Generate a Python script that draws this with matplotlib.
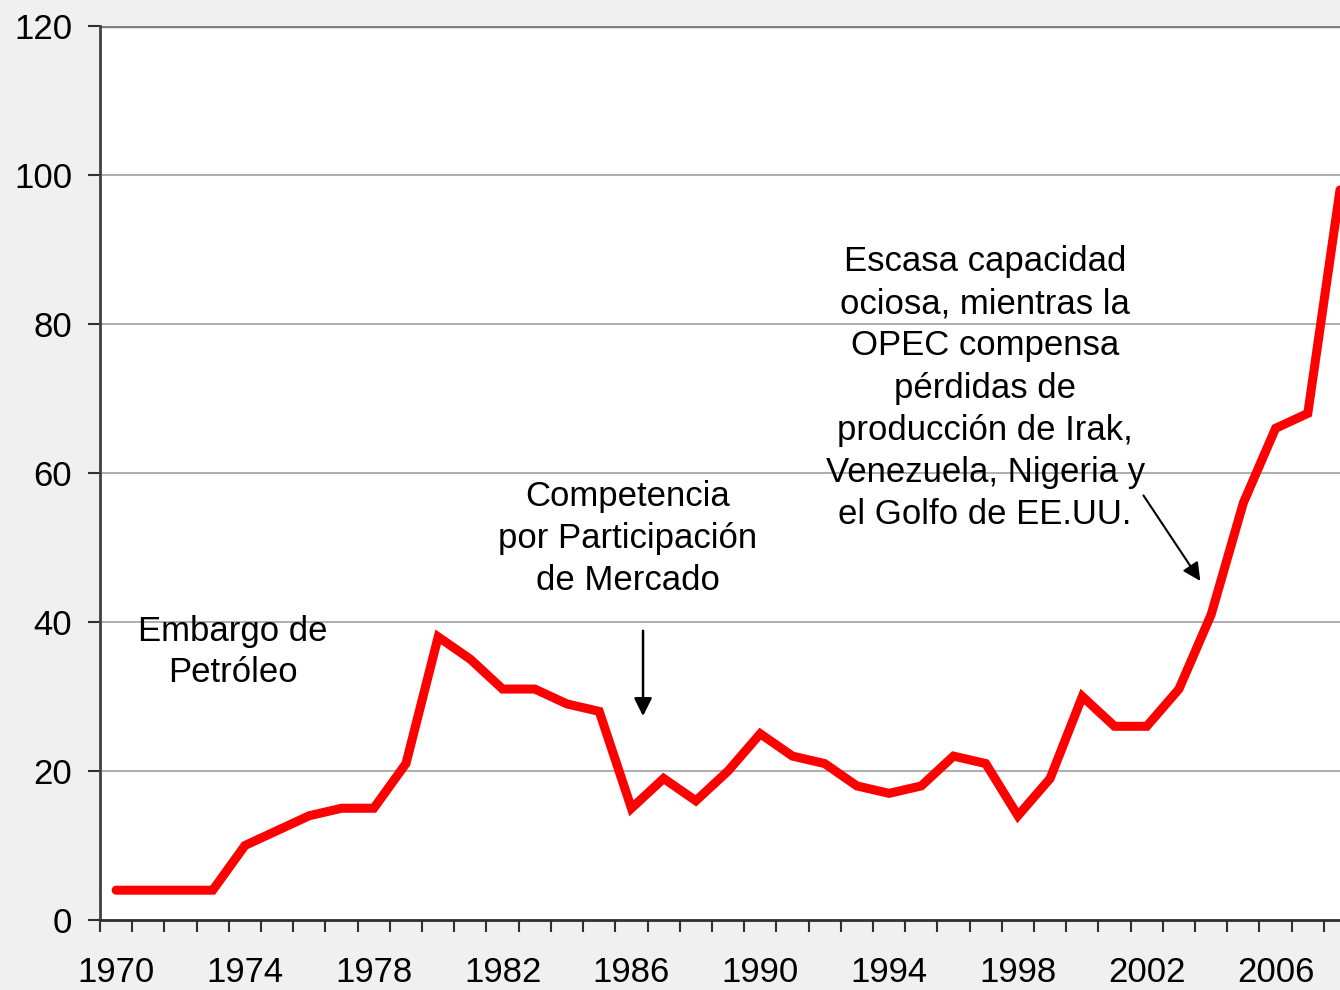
import matplotlib
matplotlib.use("Agg")
import matplotlib.pyplot as plt
import numpy as np

years = list(range(1970, 2009))
values = [4, 4, 4, 4, 10, 12, 14, 15, 15, 21,
          38, 35, 31, 31, 29, 28, 15, 19, 16, 20,
          25, 22, 21, 18, 17, 18, 22, 21, 14, 19,
          30, 26, 26, 31, 41, 56, 66, 68, 98]
label_years = list(range(1970, 2007, 4))
y_ticks = [0, 20, 40, 60, 80, 100, 120]

plt.rcParams['font.family'] = ['Liberation Sans', 'DejaVu Sans']
FS = 25
LS = 1.35

fig = plt.figure(figsize=(13.4, 9.9), dpi=100)
fig.patch.set_facecolor('#f0f0f0')
ax = fig.add_axes([100/1340, 70/990, 1240/1340, 894/990])
ax.set_facecolor('white')

x = np.arange(len(years))
ax.plot(x, values, color='#ff0000', lw=6.5, solid_capstyle='round', solid_joinstyle='miter', zorder=3)

ax.set_xlim(-0.5, 38.0)
ax.set_ylim(0, 120)

# y axis
ax.set_yticks(y_ticks)
ax.set_yticklabels([str(v) for v in y_ticks], fontsize=FS)
for v in y_ticks[1:-1]:
    ax.axhline(v, color='#a0a0a0', lw=1.2, zorder=1)
ax.axhline(120, color='#808080', lw=2.5, zorder=1)

# x axis: boundary ticks, centered labels
ax.set_xticks(np.arange(-0.5, 38.0, 1.0))
ax.set_xticklabels([])
ax.set_xticks([years.index(y) for y in label_years], minor=True)
ax.set_xticklabels([str(y) for y in label_years], minor=True, fontsize=FS)
ax.tick_params(axis='x', which='major', length=8.6, width=1.5, color='#303030', direction='out')
ax.tick_params(axis='x', which='minor', length=0, pad=26)
ax.tick_params(axis='y', length=8.6, width=1.5, color='#303030', direction='out', pad=11.5)

for s in ['top', 'right']:
    ax.spines[s].set_visible(False)
ax.spines['left'].set_color('#404040')
ax.spines['left'].set_linewidth(2)
ax.spines['bottom'].set_color('#303030')
ax.spines['bottom'].set_linewidth(2)

# Annotations
ax.text(3.63, 36.0, "Embargo de\nPetróleo", ha='center', va='center', fontsize=FS, linespacing=1.32)
ax.text(15.89, 51.2, "Competencia\npor Participación\nde Mercado", ha='center', va='center',
        fontsize=FS, linespacing=LS)
ax.annotate("", xy=(16.36, 27.0), xytext=(16.36, 39.2),
            arrowprops=dict(arrowstyle='-|>,head_length=1.08,head_width=0.54', color='black', lw=1.8))
ax.text(26.98, 71.4, "Escasa capacidad\nociosa, mientras la\nOPEC compensa\npérdidas de\n"
        "producción de Irak,\nVenezuela, Nigeria y\nel Golfo de EE.UU.",
        ha='center', va='center', fontsize=FS, linespacing=LS)
ax.annotate("", xy=(33.71, 45.2), xytext=(31.85, 57.3),
            arrowprops=dict(arrowstyle='-|>,head_length=1.08,head_width=0.54', color='black', lw=1.5))

fig.savefig("out.png", dpi=100, facecolor=fig.get_facecolor())
